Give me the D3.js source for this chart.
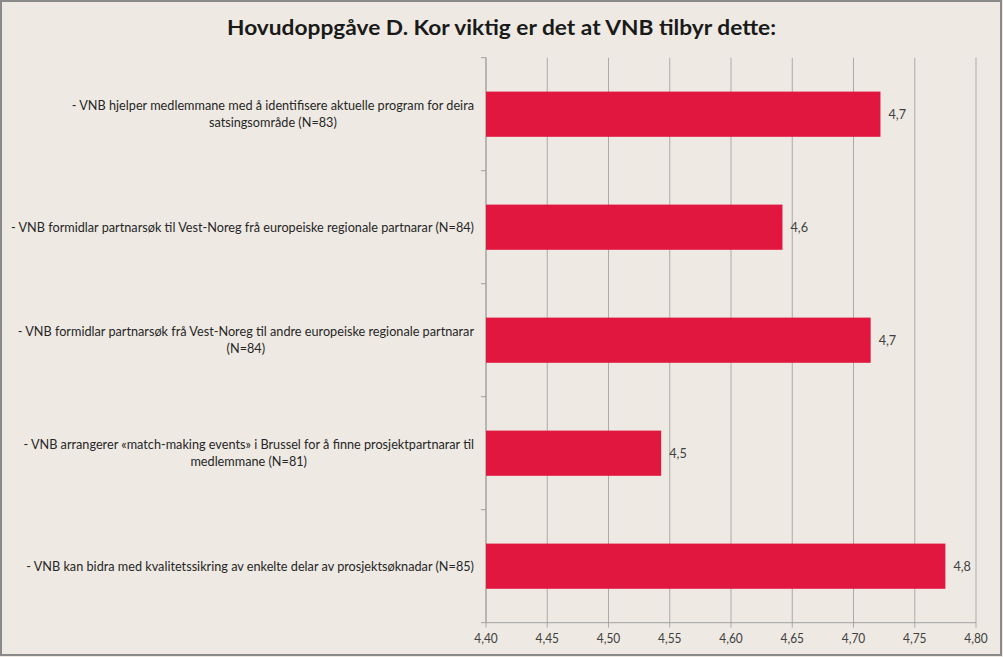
<!DOCTYPE html>
<html>
<head>
<meta charset="utf-8">
<script src="https://cdn.jsdelivr.net/npm/d3@7"></script>
<style>
  html, body { margin: 0; padding: 0; background: #EEEAE3; }
  svg { display: block; }
  text { font-family: Lato, "Open Sans", sans-serif; }
</style>
</head>
<body>
<svg id="chart" width="1003" height="657"></svg>
<script>
const titleText = "Hovudoppgåve D. Kor viktig er det at VNB tilbyr dette:";
const categories = [
  ["- VNB hjelper medlemmane med å identifisere aktuelle program for deira", "satsingsområde (N=83)"],
  ["- VNB formidlar partnarsøk til Vest-Noreg frå europeiske regionale partnarar (N=84)"],
  ["- VNB formidlar partnarsøk frå Vest-Noreg til andre europeiske regionale partnarar", "(N=84)"],
  ["- VNB arrangerer «match-making events» i Brussel for å finne prosjektpartnarar til", "medlemmane (N=81)"],
  ["- VNB kan bidra med kvalitetssikring av enkelte delar av prosjektsøknadar (N=85)"]
];
const values = [4.722, 4.642, 4.714, 4.543, 4.775];
const tickValues = [4.40, 4.45, 4.50, 4.55, 4.60, 4.65, 4.70, 4.75, 4.80];

const W = 1003, H = 657;
const plot = { left: 486, right: 976, top: 57.7, bottom: 622.7 };
const svg = d3.select("#chart");

svg.append("rect").attr("x", 1).attr("y", 1).attr("width", W - 3).attr("height", H - 3)
  .attr("fill", "#EEEAE3").attr("stroke", "#8a8a8a").attr("stroke-width", 2);

const title = svg.append("text").attr("x", 501.5).attr("y", 35)
  .attr("text-anchor", "middle").attr("font-size", 21.3).attr("font-weight", "bold")
  .attr("fill", "#1a1a1a").text(titleText);
title.attr("textLength", 549).attr("lengthAdjust", "spacingAndGlyphs");

const x = d3.scaleLinear().domain([4.40, 4.80]).range([plot.left, plot.right]);
const idx = categories.map((d, i) => i);
const y = d3.scaleBand().domain(idx).range([plot.top, plot.bottom]).paddingInner(0.6).paddingOuter(0.3);
const yb = d3.scaleBand().domain(idx).range([plot.top, plot.bottom]);

// gridlines
svg.append("g").selectAll("line").data(tickValues).join("line")
  .attr("x1", d => x(d)).attr("x2", d => x(d))
  .attr("y1", plot.top).attr("y2", plot.bottom + 5)
  .attr("stroke", "#ababab").attr("stroke-width", 1);

// x axis line
svg.append("line").attr("x1", plot.left - 5).attr("x2", plot.right)
  .attr("y1", plot.bottom).attr("y2", plot.bottom)
  .attr("stroke", "#a0a0a0").attr("stroke-width", 1);

// y axis line + category ticks
svg.append("line").attr("x1", plot.left).attr("x2", plot.left)
  .attr("y1", plot.top).attr("y2", plot.bottom)
  .attr("stroke", "#a0a0a0").attr("stroke-width", 1);
const bounds = idx.map(i => yb(i));
svg.append("g").selectAll("line").data(bounds).join("line")
  .attr("x1", plot.left - 5).attr("x2", plot.left)
  .attr("y1", d => d).attr("y2", d => d)
  .attr("stroke", "#a0a0a0").attr("stroke-width", 1);

// measure compression factor so Lato matches Calibri-like widths
const probe = svg.append("text").attr("font-size", 13.3).text(categories[1][0]);
const factor = 463 / probe.node().getComputedTextLength();
probe.remove();

function squeeze(sel) {
  sel.each(function() {
    const w = this.getComputedTextLength();
    d3.select(this).attr("textLength", w * factor).attr("lengthAdjust", "spacingAndGlyphs");
  });
}

// x tick labels
svg.append("g").selectAll("text").data(tickValues).join("text")
  .attr("x", d => x(d)).attr("y", 643)
  .attr("text-anchor", "middle").attr("font-size", 12.5).attr("fill", "#404040")
  .text(d => d3.format(".2f")(d).replace(".", ","))
  .call(squeeze);

// bars
svg.append("g").selectAll("rect").data(values).join("rect")
  .attr("x", plot.left).attr("y", (d, i) => y(i))
  .attr("width", d => x(d) - plot.left).attr("height", y.bandwidth())
  .attr("fill", "#E1173F");

// value labels
svg.append("g").selectAll("text").data(values).join("text")
  .attr("x", d => x(d) + 8).attr("y", (d, i) => y(i) + y.bandwidth() / 2 + 4.5)
  .attr("font-size", 13.3).attr("fill", "#404040")
  .text(d => d3.format(".1f")(d).replace(".", ","))
  .call(squeeze);

// category labels
const labelRight = 474, lineH = 17.5;
categories.forEach((lines, i) => {
  const cy = yb(i) + yb.bandwidth() / 2;
  const g = svg.append("g");
  const texts = lines.map((l, j) => g.append("text")
    .attr("font-size", 13.3).attr("fill", "#262626")
    .attr("text-anchor", "middle")
    .attr("y", cy + (j - (lines.length - 1) / 2) * lineH + 4.5)
    .text(l));
  const widths = texts.map(t => t.node().getComputedTextLength() * factor);
  texts.forEach((t, j) => t.attr("textLength", widths[j]).attr("lengthAdjust", "spacingAndGlyphs"));
  const maxW = d3.max(widths);
  const cx = labelRight - maxW / 2;
  texts.forEach(t => t.attr("x", cx));
});
</script>
</body>
</html>
